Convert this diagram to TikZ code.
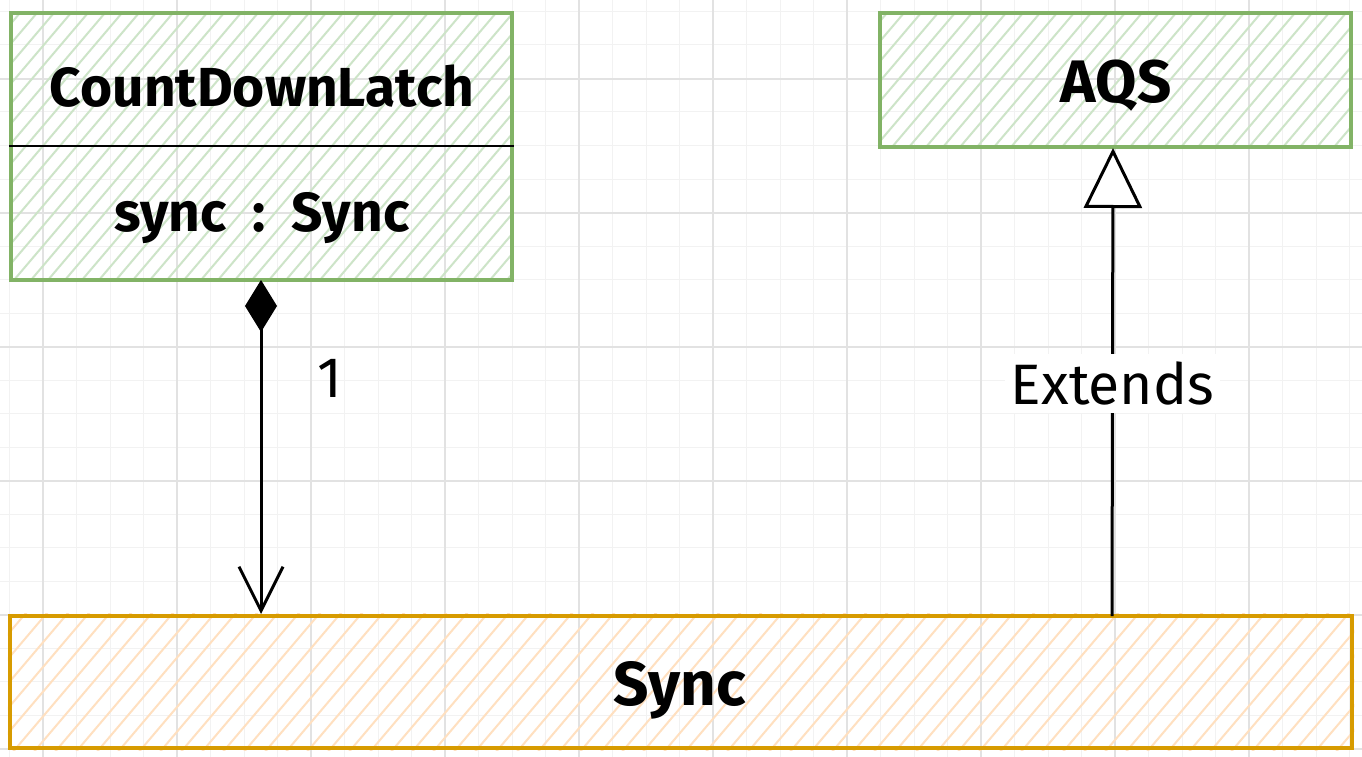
\documentclass[tikz,border=0pt]{standalone}
\usepackage{fontspec}
\setmainfont{Fira Sans}
\usetikzlibrary{arrows.meta,backgrounds}
\definecolor{gridmaj}{HTML}{E2E2E2}
\definecolor{gridmin}{HTML}{F2F2F2}
\definecolor{grnline}{HTML}{82B366}
\definecolor{grnhatch}{HTML}{CDE4C8}
\definecolor{orgline}{HTML}{D79B00}
\definecolor{orghatch}{HTML}{FFE0C0}
\tikzset{
  greenbox/.style={draw=grnline, line width=3.5pt, rectangle, inner sep=0pt},
  orangebox/.style={draw=orgline, line width=4.5pt, rectangle, inner sep=0pt},
  hatchline/.style={line width=2pt},
  boldlabel/.style={font=\fontsize{55}{66}\selectfont\bfseries, inner sep=0pt},
  plainlabel/.style={font=\fontsize{57}{68}\selectfont, inner sep=0pt},
  conn/.style={line width=3pt, black},
}
\newcommand{\hatchrect}[3]{%
  \begin{scope}
    \clip (#1.south west) rectangle (#1.north east);
    \pgfmathsetmacro{\hstart}{-700}
    \pgfmathsetmacro{\hnext}{-700+#3}
    \foreach \k in {\hstart,\hnext,...,1400}{
      \draw[#2, hatchline] (\k,800) -- ({\k+680},0);
    }
  \end{scope}}
\begin{document}
\begin{tikzpicture}[x=1pt,y=-1pt]
\useasboundingbox (0,0) rectangle (1362,757);
% boxes
\node[greenbox, minimum width=501pt, minimum height=267pt] (cdl) at (261.5,146.5) {};
\node[greenbox, minimum width=471pt, minimum height=134pt] (aqs) at (1115.5,80) {};
\node[orangebox, minimum width=1342pt, minimum height=132pt] (sync) at (681,682) {};
\begin{scope}[on background layer]
\fill[white] (0,0) rectangle (1362,757);
\foreach \i in {0,...,41}{
  \draw[gridmin, line width=1pt] ({9.5+33.5*\i},0) -- ({9.5+33.5*\i},757);
}
\foreach \i in {0,...,23}{
  \draw[gridmin, line width=1pt] (0,{11.5+33.5*\i}) -- (1362,{11.5+33.5*\i});
}
\foreach \i in {0,...,10}{
  \draw[gridmaj, line width=1.2pt] ({43+134*\i},0) -- ({43+134*\i},757);
}
\foreach \i in {0,...,5}{
  \draw[gridmaj, line width=1.2pt] (0,{79+134*\i}) -- (1362,{79+134*\i});
}
\hatchrect{cdl}{grnhatch}{17}
\hatchrect{aqs}{grnhatch}{17}
\hatchrect{sync}{orghatch}{21}
\end{scope}
\draw[black, line width=2.5pt] (cdl.west |- 0,146) coordinate (divl) -- (cdl.east |- 0,146) coordinate (divr);
% texts
\node[boldlabel] (cdlname) at (262,86) {CountDownLatch};
\node[boldlabel] (cdlattr) at (262,218) {sync\ \ :\ \ Sync};
\node[boldlabel, font=\fontsize{60}{70}\selectfont\bfseries] (aqsname) at (1116,86) {AQS};
\node[boldlabel, font=\fontsize{62}{72}\selectfont\bfseries] (syncname) at (680,690) {Sync};
% connectors
\coordinate (compTop) at (261,280);
\coordinate (compBot) at (261,614);
\draw[conn, {Diamond[length=52pt,width=32pt]}-{Straight Barb[length=44pt,width=44pt,line width=3pt]}] (compTop) -- (compBot);
\node[plainlabel] (mult) at (330,378) {1};
\coordinate (extBot) at (1112,616);
\coordinate (extTop) at (1113,148);
\draw[conn, -{Triangle[open,length=60pt,width=58pt,fill=white]}] (extBot) -- (extTop)
  node[pos=0.497, fill=white, inner xsep=6pt, inner ysep=8pt, font=\fontsize{57}{68}\selectfont] (extlabel) {Extends};
\end{tikzpicture}
\end{document}
